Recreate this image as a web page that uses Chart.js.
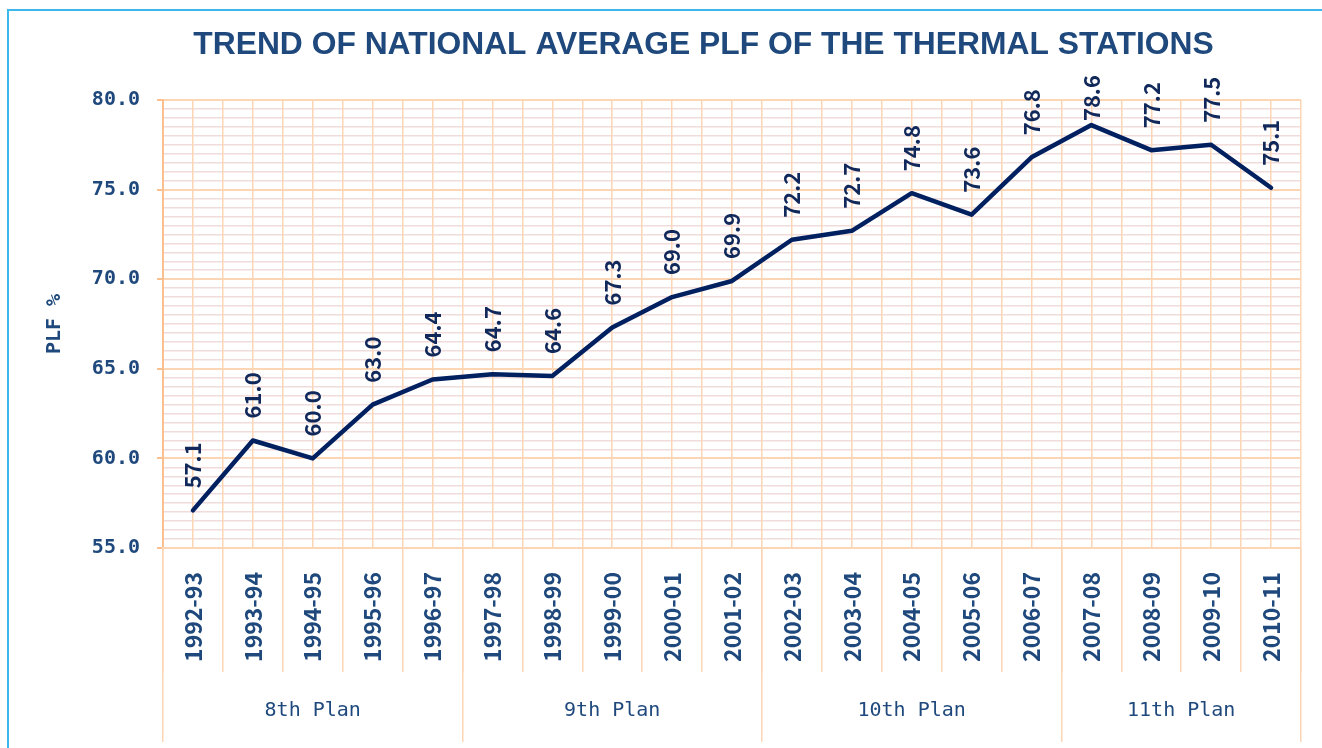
<!DOCTYPE html>
<html>
<head>
<meta charset="utf-8">
<title>PLF trend</title>
<script src="https://cdn.jsdelivr.net/npm/chart.js@4"></script>
<style>
  html, body { margin: 0; padding: 0; background: #fff; }
  canvas { display: block; }
</style>
</head>
<body>
<canvas id="grafico" width="1322" height="748"></canvas>
<script>
// Datos del grafico
const anios = ["1992-93", "1993-94", "1994-95", "1995-96", "1996-97", "1997-98", "1998-99",
  "1999-00", "2000-01", "2001-02", "2002-03", "2003-04", "2004-05", "2005-06", "2006-07",
  "2007-08", "2008-09", "2009-10", "2010-11"];
const plf = [57.1, 61.0, 60.0, 63.0, 64.4, 64.7, 64.6, 67.3, 69.0, 69.9, 72.2, 72.7, 74.8,
  73.6, 76.8, 78.6, 77.2, 77.5, 75.1];
const planes = ["8th Plan", "9th Plan", "10th Plan", "11th Plan"];
const aniosPorPlan = [5, 5, 5, 4];
const yMin = 55, yMax = 80, yPaso = 0.5, yMayor = 5;

// limites y centros de cada plan, en indices de categoria
const limitesPlan = [-0.5];
const centrosPlan = [];
aniosPorPlan.forEach((n) => {
  const ini = limitesPlan[limitesPlan.length - 1];
  centrosPlan.push(ini + n / 2);
  limitesPlan.push(ini + n);
});

const azulTexto = "#1F497D";
const naranja = "#FCD5B4";
const rosa = "#F2DCDB";
const mono = "'DejaVu Sans Mono', monospace";
const gotica = "'Noto Sans CJK JP', 'DejaVu Sans Mono', sans-serif";

// marco azul y fondo
const marco = {
  id: "marco",
  beforeDraw(chart) {
    const c = chart.ctx;
    c.save();
    c.fillStyle = "#fff";
    c.fillRect(0, 0, chart.width, chart.height);
    c.strokeStyle = "#3DB8EC";
    c.lineWidth = 2;
    c.beginPath();
    c.moveTo(8, chart.height);
    c.lineTo(8, 10);
    c.lineTo(chart.width, 10);
    c.stroke();
    c.restore();
  },
  // el eje y se ensancha hacia la izquierda para que quepan sus numeros
  afterLayout(chart) {
    chart.scales.y.left -= 20;
  },
};

// etiquetas de valores, giradas
const etiquetas = {
  id: "etiquetas",
  afterDatasetsDraw(chart) {
    const c = chart.ctx;
    const meta = chart.getDatasetMeta(0);
    c.save();
    c.font = "bold 22px " + gotica;
    c.fillStyle = "#10285A";
    c.textAlign = "left";
    c.textBaseline = "middle";
    meta.data.forEach((p, i) => {
      const txt = plf[i].toFixed(1);
      const w = c.measureText(txt).width;
      let inicio = p.y - 22;
      if (inicio - w < 75) inicio = 75 + w;
      c.save();
      c.translate(p.x, inicio);
      c.rotate(-Math.PI / 2);
      c.fillText(txt, 0, 0);
      c.restore();
    });
    c.restore();
  },
};

new Chart(document.getElementById("grafico"), {
  type: "line",
  data: {
    labels: anios,
    datasets: [
      {
        data: plf,
        borderColor: "#002060",
        borderWidth: 4.5,
        borderCapStyle: "round",
        borderJoinStyle: "round",
        pointRadius: 0,
        tension: 0,
        clip: false,
      },
    ],
  },
  options: {
    responsive: false,
    animation: false,
    devicePixelRatio: 1,
    layout: { padding: { left: 106, right: 21, top: 0, bottom: 0 } },
    plugins: {
      legend: { display: false },
      tooltip: { enabled: false },
      title: {
        display: true,
        text: "TREND OF NATIONAL AVERAGE PLF OF THE THERMAL STATIONS",
        color: azulTexto,
        font: { family: "'Liberation Sans', Arial, sans-serif", size: 31.8, weight: "bold", lineHeight: 1.2 },
        padding: { top: 26, bottom: 35.8 },
      },
    },
    scales: {
      y: {
        min: yMin,
        max: yMax,
        afterFit: (s) => { s.width = 57; },
        ticks: {
          stepSize: yPaso,
          maxTicksLimit: 100,
          autoSkip: false,
          padding: 17,
          color: azulTexto,
          font: { family: mono, size: 20, weight: "bold" },
          callback: (v) => (v % yMayor === 0 ? v.toFixed(1) : ""),
        },
        grid: {
          color: (ctx) => (ctx.tick && ctx.tick.value % yMayor === 0 ? naranja : rosa),
          lineWidth: (ctx) => (ctx.tick && ctx.tick.value % yMayor === 0 ? 2 : 1.5),
          tickColor: (ctx) => (ctx.tick && ctx.tick.value % yMayor === 0 ? "#FAC090" : "rgba(0,0,0,0)"),
          tickLength: 6,
        },
        border: { color: "#FAC090", width: 2 },
        title: {
          display: true,
          text: "PLF %",
          color: azulTexto,
          font: { family: mono, size: 20, weight: "bold" },
          padding: { top: -43, bottom: 0 },
        },
      },
      x: {
        type: "category",
        weight: 5,
        offset: true,
        afterFit: (s) => { s.height = 124; },
        ticks: {
          autoSkip: false,
          minRotation: 90,
          maxRotation: 90,
          padding: -100,
          color: azulTexto,
          font: { family: gotica, size: 23, weight: "bold" },
        },
        grid: {
          offset: true,
          color: naranja,
          lineWidth: 1.5,
          drawTicks: true,
          tickLength: 124,
        },
        border: { color: naranja, width: 2 },
      },
      xCentro: {
        type: "category",
        labels: anios,
        position: "bottom",
        weight: 0,
        offset: true,
        afterFit: (s) => { s.height = 0; },
        ticks: { display: false },
        grid: { offset: false, color: naranja, lineWidth: 1.5, drawTicks: false },
        border: { display: false },
      },
      xLimites: {
        type: "linear",
        position: "bottom",
        weight: 0,
        min: -0.5,
        max: anios.length - 0.5,
        afterFit: (s) => { s.height = 0; },
        afterBuildTicks: (s) => { s.ticks = limitesPlan.map((v) => ({ value: v })); },
        ticks: { display: false, callback: () => "" },
        grid: { drawOnChartArea: false, color: naranja, lineWidth: 1.5, drawTicks: true, tickLength: 194 },
        border: { display: false },
      },
      xPlan: {
        type: "linear",
        position: "bottom",
        weight: 10,
        min: -0.5,
        max: anios.length - 0.5,
        afterFit: (s) => { s.height = 76; },
        afterBuildTicks: (s) => { s.ticks = centrosPlan.map((v) => ({ value: v })); },
        ticks: {
          autoSkip: false,
          maxRotation: 0,
          padding: 27,
          color: azulTexto,
          font: { family: mono, size: 20 },
          callback: (v, i) => planes[i],
        },
        grid: { display: false, drawTicks: false },
        border: { display: false },
      },
    },
  },
  plugins: [marco, etiquetas],
});
</script>
</body>
</html>
